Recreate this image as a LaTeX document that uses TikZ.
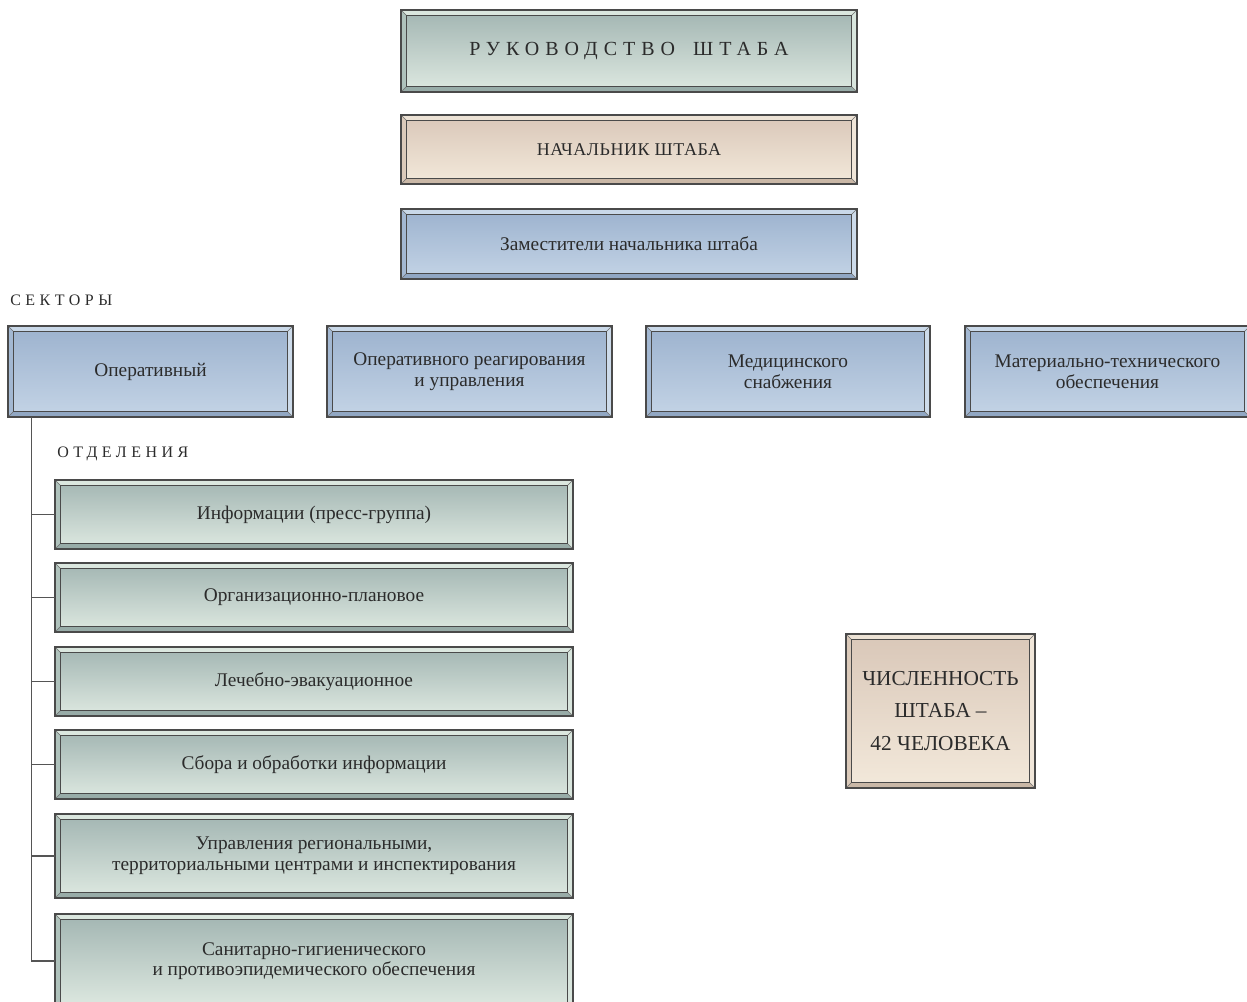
\documentclass[tikz,border=0pt]{standalone}
\usepackage{fontspec}
\setmainfont{Liberation Serif}
% colour schemes: b = blue, g = grey-green, t = tan
\definecolor{bin1}{HTML}{9CB2CE}\definecolor{bin2}{HTML}{C4D4E6}
\definecolor{btop}{HTML}{C9D8E8}\definecolor{bleft}{HTML}{A3B8D2}
\definecolor{bbot}{HTML}{91A7C3}\definecolor{bright}{HTML}{CDDBEA}
\definecolor{gin1}{HTML}{A2B5B2}\definecolor{gin2}{HTML}{DEE9E1}
\definecolor{gtop}{HTML}{DBE7DF}\definecolor{gleft}{HTML}{AFC2BC}
\definecolor{gbot}{HTML}{98ACA8}\definecolor{gright}{HTML}{D8E5DD}
\definecolor{tin1}{HTML}{D9C7B8}\definecolor{tin2}{HTML}{F3E9DB}
\definecolor{ttop}{HTML}{ECE2D5}\definecolor{tleft}{HTML}{DBCABA}
\definecolor{tbot}{HTML}{CAB8A7}\definecolor{tright}{HTML}{F0E6D9}
\definecolor{txt}{HTML}{2B2B2B}
\definecolor{linec}{HTML}{555555}
\definecolor{edgec}{HTML}{4A4A4A}
\tikzset{
  conn/.style={draw=linec, line width=0.8pt},
  outerl/.style={draw=edgec, line width=1.2pt},
  innerl/.style={draw=edgec, line width=0.8pt},
  diagl/.style={draw=edgec!80, line width=0.5pt},
  boxtext/.style={text=txt, align=center, font=\fontsize{14.5}{15.5}\selectfont},
  bigtext/.style={text=txt, align=center, font=\fontsize{16}{24.4}\selectfont},
  headtext/.style={text=txt, font=\fontsize{15}{18}\selectfont\addfontfeature{LetterSpace=30}},
  chieftext/.style={text=txt, font=\fontsize{13.5}{16}\selectfont\addfontfeature{LetterSpace=3}},
  labeltext/.style={text=txt, anchor=west, inner sep=0pt, font=\fontsize{12}{14}\selectfont\addfontfeature{LetterSpace=28}},
}
% #1 name, #2 x1, #3 y1, #4 x2, #5 y2, #6 scheme, #7 text style, #8 text
\newcommand\bevelbox[8]{%
  \pgfmathsetmacro\bvw{(#4-#2)*0.75}%
  \pgfmathsetmacro\bvh{(#5-#3)*0.75}%
  \node[top color=#6in1, bottom color=#6in2, draw=none, inner sep=0pt,
        minimum width=\bvw pt, minimum height=\bvh pt, #7]
        (#1) at ({(#2+#4)/2},{(#3+#5)/2}) {#8};
  \fill[#6top] (#1.north west) -- (#1.north east) -- ([shift={(-4.5pt,-4.5pt)}]#1.north east) -- ([shift={(4.5pt,-4.5pt)}]#1.north west) -- cycle;
  \fill[#6left] (#1.north west) -- ([shift={(4.5pt,-4.5pt)}]#1.north west) -- ([shift={(4.5pt,4.5pt)}]#1.south west) -- (#1.south west) -- cycle;
  \fill[#6bot] (#1.south west) -- ([shift={(4.5pt,4.5pt)}]#1.south west) -- ([shift={(-4.5pt,4.5pt)}]#1.south east) -- (#1.south east) -- cycle;
  \fill[#6right] (#1.north east) -- (#1.south east) -- ([shift={(-4.5pt,4.5pt)}]#1.south east) -- ([shift={(-4.5pt,-4.5pt)}]#1.north east) -- cycle;
  \draw[diagl] (#1.north west) -- ([shift={(4.5pt,-4.5pt)}]#1.north west)
               (#1.north east) -- ([shift={(-4.5pt,-4.5pt)}]#1.north east)
               (#1.south west) -- ([shift={(4.5pt,4.5pt)}]#1.south west)
               (#1.south east) -- ([shift={(-4.5pt,4.5pt)}]#1.south east);
  \draw[innerl] ([shift={(4.5pt,-4.5pt)}]#1.north west) rectangle ([shift={(-4.5pt,4.5pt)}]#1.south east);
  \draw[outerl] (#1.north west) rectangle (#1.south east);
}
\begin{document}
\begin{tikzpicture}[x=0.75pt,y=-0.75pt]
\path[use as bounding box] (0,0) rectangle (1247,1001);
\clip (0,0) rectangle (1247,1001);

\bevelbox{ruk}{401}{10}{857}{92}{g}{headtext}{РУКОВОДСТВО\hspace{0.9em}ШТАБА}
\bevelbox{nach}{401}{115}{857}{184}{t}{chieftext}{НАЧАЛЬНИК ШТАБА}
\bevelbox{zam}{401}{209}{857}{279}{b}{boxtext}{Заместители начальника штаба}

\node[labeltext] (sect) at (10,300) {СЕКТОРЫ};
\bevelbox{s1}{8}{326}{293}{417}{b}{boxtext}{Оперативный}
\bevelbox{s2}{327}{326}{612}{417}{b}{boxtext}{Оперативного реагирования\\и управления}
\bevelbox{s3}{646}{326}{930}{417}{b}{boxtext}{Медицинского\\снабжения}
\bevelbox{s4}{965}{326}{1250}{417}{b}{boxtext}{Материально-технического\\обеспечения}

\node[labeltext] (otd) at (57,454) {ОТДЕЛЕНИЯ};
\bevelbox{d1}{55}{480}{573}{549}{g}{boxtext}{Информации (пресс-группа)}
\bevelbox{d2}{55}{563}{573}{632}{g}{boxtext}{Организационно-плановое}
\bevelbox{d3}{55}{647}{573}{716}{g}{boxtext}{Лечебно-эвакуационное}
\bevelbox{d4}{55}{730}{573}{799}{g}{boxtext}{Сбора и обработки информации}
\bevelbox{d5}{55}{814}{573}{898}{g}{boxtext}{Управления региональными,\\территориальными центрами и инспектирования}
\bevelbox{d6}{55}{914}{573}{1008}{g}{boxtext}{Санитарно-гигиенического\\и противоэпидемического обеспечения}

\bevelbox{chis}{846}{634}{1035}{788}{t}{bigtext}{ЧИСЛЕННОСТЬ\\ШТАБА –\\42 ЧЕЛОВЕКА}

% connectors
\coordinate (trunk) at ([xshift=18pt]s1.south west);
\draw[conn] (trunk) |- (d6.west);
\foreach \d in {d1,d2,d3,d4,d5}{\draw[conn] (trunk |- \d.west) -- (\d.west);}
\end{tikzpicture}
\end{document}
